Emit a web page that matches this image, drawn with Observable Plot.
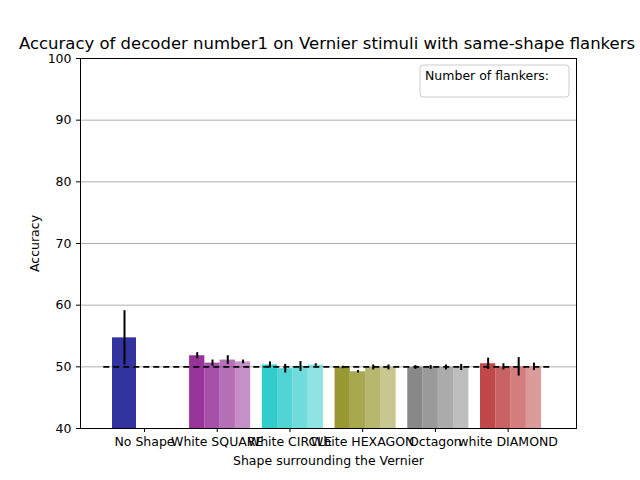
<!DOCTYPE html>
<html><head>
<meta charset="utf-8">
<script src="https://cdn.jsdelivr.net/npm/d3@7"></script>
<script src="https://cdn.jsdelivr.net/npm/@observablehq/plot@0.6"></script>
<style>body{margin:0;font-family:"DejaVu Sans",sans-serif;background:#fff}</style>
</head><body><div id="c"></div>
<script>
const categories = ["No Shape", "White SQUARE", "White CIRCLE", "White HEXAGON", "Octagon", "white DIAMOND"];
const colors = ["#3333a0", "#973399", "#33cccc", "#999933", "#888888", "#c04848"];
const values = [
  [54.7],
  [51.8, 50.6, 51.1, 50.8],
  [50.3, 49.7, 50.05, 50.3],
  [49.9, 49.2, 49.9, 49.9],
  [49.9, 49.9, 49.9, 49.9],
  [50.5, 50.0, 50.0, 50.0]
];
const errors = [
  [4.4],
  [0.5, 0.5, 0.7, 0.3],
  [0.5, 0.7, 0.8, 0.2],
  [0.2, 0.2, 0.4, 0.4],
  [0.3, 0.3, 0.4, 0.5],
  [0.9, 0.5, 1.5, 0.6]
];
const chance = 50;

const rows = [];
values.forEach((vs, i) => vs.forEach((v, j) => {
  const w = i === 0 ? 0.33 : 0.21;
  const x1 = i === 0 ? i - 0.44 : i - 0.38 + j * w;
  rows.push({x1, x2: x1 + w, xm: x1 + w / 2, y: v, e: errors[i][j], fill: colors[i], op: 1 - j * 0.15});
}));

const plot = Plot.plot({
  width: 640, height: 480,
  marginLeft: 80, marginRight: 64, marginTop: 58, marginBottom: 52,
  style: {fontFamily: "DejaVu Sans", fontSize: "12.5px", color: "#000"},
  x: {domain: [-0.88, 5.94], ticks: d3.range(categories.length), tickFormat: i => categories[i], label: "Shape surrounding the Vernier", labelArrow: "none", labelAnchor: "center", labelOffset: 36, tickSize: 4},
  y: {domain: [40, 100], ticks: d3.range(40, 101, 10), grid: false, label: "Accuracy", labelArrow: "none", labelAnchor: "center", labelOffset: 50, tickSize: 4},
  marks: [
    Plot.ruleY(d3.range(50, 101, 10), {stroke: "#b0b0b0", strokeOpacity: 1}),
    Plot.rectY(rows, {x1: "x1", x2: "x2", y1: 40, y2: "y", fill: "fill", fillOpacity: "op"}),
    Plot.ruleX(rows, {x: "xm", y1: d => d.y - d.e, y2: d => d.y + d.e, stroke: "black", strokeWidth: 2}),
    Plot.ruleY([chance], {x1: -0.56, x2: 5.61, stroke: "black", strokeWidth: 1.8, strokeDasharray: "6,4"}),
    Plot.frame({stroke: "black"})
  ]
});
const svg = d3.select(plot);
svg.append("text").attr("x", 327).attr("y", 49).attr("text-anchor", "middle").attr("font-size", 16.5).text("Accuracy of decoder number1 on Vernier stimuli with same-shape flankers");
svg.append("rect").attr("x", 420).attr("y", 65).attr("width", 149).attr("height", 32).attr("rx", 3).attr("fill", "white").attr("stroke", "#cccccc");
svg.append("text").attr("x", 425).attr("y", 80).attr("text-anchor", "start").attr("font-size", 12.5).text("Number of flankers:");
document.getElementById("c").append(plot);
</script></body></html>
